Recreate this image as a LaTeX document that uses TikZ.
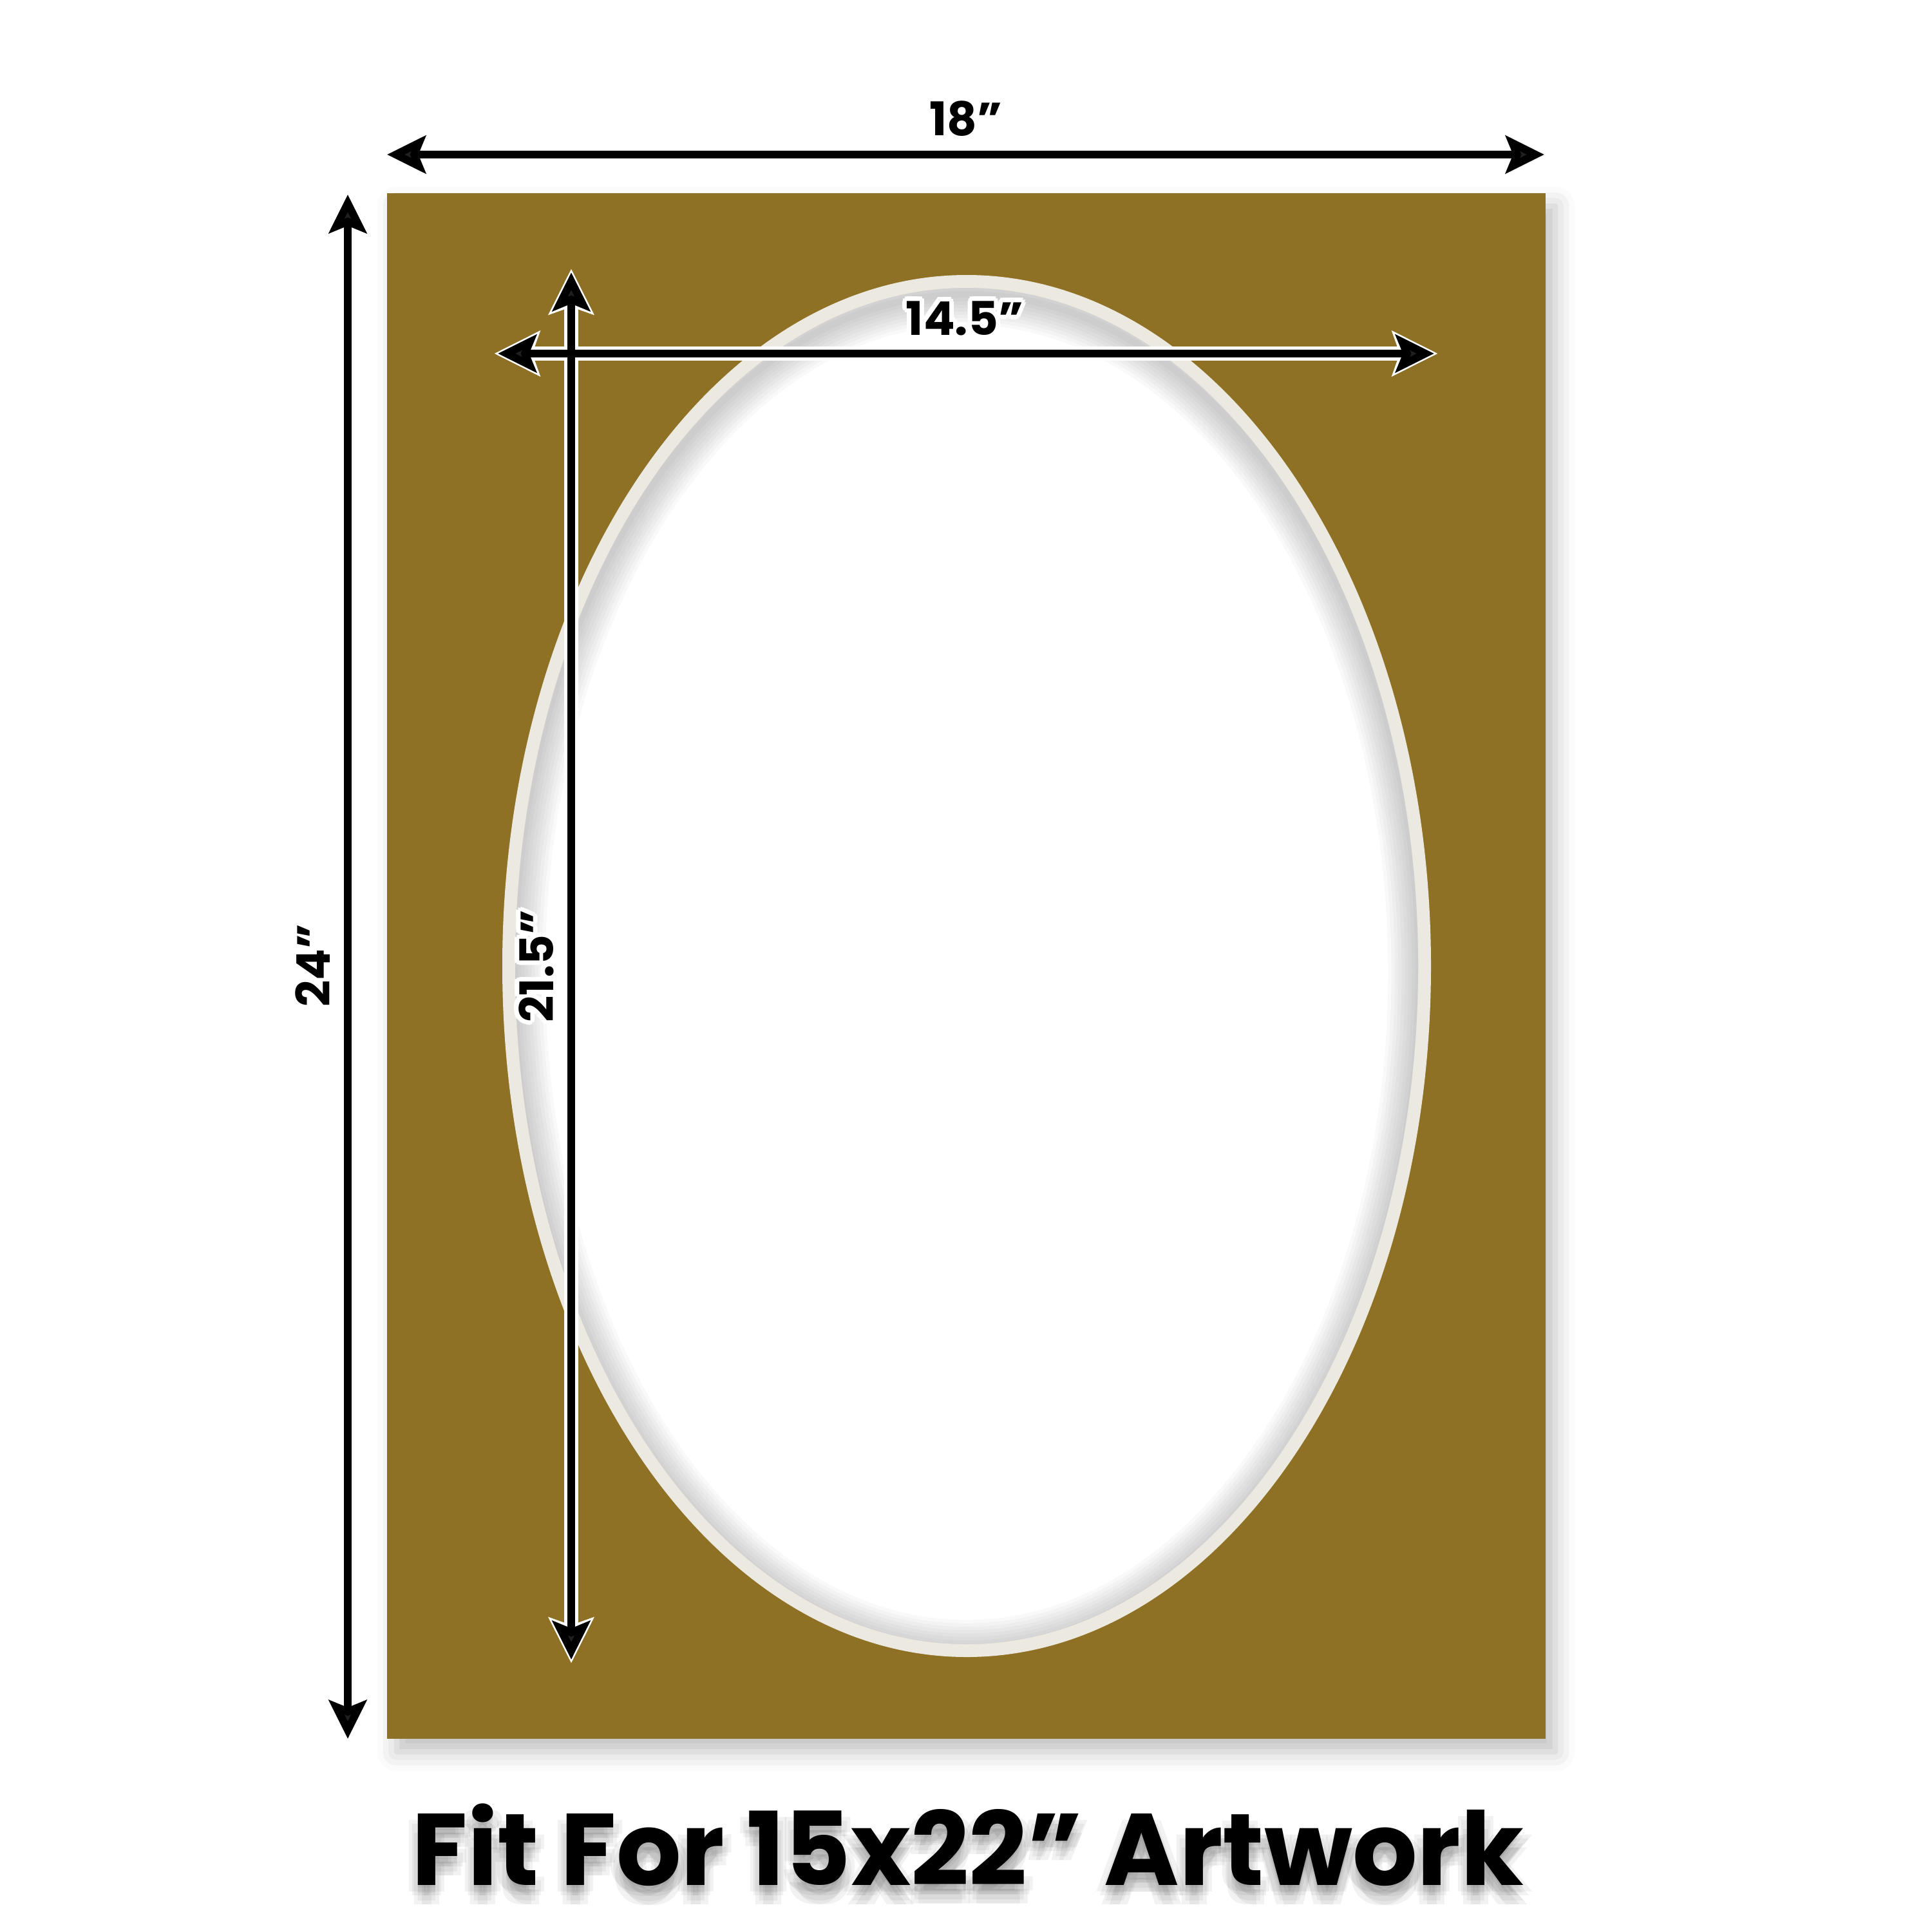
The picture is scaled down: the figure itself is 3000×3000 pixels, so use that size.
\documentclass[tikz,border=0pt]{standalone}
\usepackage{fontspec}
\setmainfont{Poppins}
\usetikzlibrary{arrows.meta,shadows.blur}

\definecolor{matgold}{RGB}{143,113,37}
\definecolor{bevel}{RGB}{236,233,225}
\tikzset{
  dimline/.style={line width=3.4pt,
    {Stealth[length=17pt,width=16.5pt,inset=3.2pt]}-{Stealth[length=17pt,width=16.5pt,inset=3.2pt]}},
  halo/.style={draw=white, line width=6.2pt,
    {Stealth[length=20pt,width=19.5pt,inset=3.2pt]}-{Stealth[length=20pt,width=19.5pt,inset=3.2pt]},
    shorten >=-1.6pt, shorten <=-1.6pt},
  dimlabel/.style={font=\fontsize{20.5pt}{24pt}\selectfont\bfseries, inner sep=0pt, anchor=base},
  caption/.style={font=\fontsize{45pt}{54pt}\selectfont\bfseries, inner sep=0pt, anchor=base}
}

\begin{document}
\begin{tikzpicture}[x=0.01cm, y=-0.01cm]
    \useasboundingbox (0,0) rectangle (3000,3000);
    % mat board
    \coordinate (matNW) at (601,300);
    \coordinate (matSE) at (2400,2700);
    \coordinate (hole) at (1501,1500);
    \fill[matgold, blur shadow={shadow xshift=1.5mm, shadow yshift=-2mm,
      shadow blur radius=3mm, shadow opacity=25}] (matNW) rectangle (matSE);
    \fill[bevel] (hole) ellipse [x radius=721, y radius=1073];
    \fill[white] (hole) ellipse [x radius=701, y radius=1053];
    \begin{scope}
      \clip (hole) ellipse [x radius=701, y radius=1053];
      \foreach \w in {3,6,...,27} {
        \draw[black!60, opacity=0.04, line width=\w pt] (1501,1510) ellipse [x radius=702, y radius=1053];
      }
    \end{scope}
    %
    % outer sizes
    \coordinate (topL) at (601,240);
    \coordinate (topR) at (2398,240);
    \coordinate (sideT) at (540,302);
    \coordinate (sideB) at (540,2700);
    \draw[dimline] (topL) -- (topR);
    \draw[dimline] (sideT) -- (sideB);
    \node[dimlabel] (lblW) at (1500,210) {18”};
    \node[dimlabel, rotate=90] (lblH) at (512,1499) {24”};
    %
    % opening sizes
    \coordinate (wideL) at (773,549);
    \coordinate (wideR) at (2227,549);
    \coordinate (tallT) at (887,423);
    \coordinate (tallB) at (887,2577);
    \draw[halo] (wideL) -- (wideR);
    \draw[halo] (tallT) -- (tallB);
    \draw[dimline] (wideL) -- (wideR);
    \draw[dimline] (tallT) -- (tallB);
    \foreach \a in {0,30,...,330} {
      \node[dimlabel, text=white] (wideh\a) at ({1498+7*cos(\a)},{520+7*sin(\a)}) {14.5”};
      \node[dimlabel, text=white, rotate=90] (tallh\a) at ({859+7*cos(\a)},{1500+7*sin(\a)}) {21.5”};
    }
    \node[dimlabel] (lblWide) at (1498,520) {14.5”};
    \node[dimlabel, rotate=90] (lblTall) at (859,1500) {21.5”};
    %
    % caption
    \foreach \dx/\dy [count=\i] in {0/12,-9/16,9/16,0/24,-14/10,14/10,0/4,-6/30,6/30} {
      \node[caption, text=black, opacity=0.05] (capsh\i) at ({1503+\dx},{2927+\dy}) {Fit For 15x22” Artwork};
    }
    \node[caption] (cap) at (1503,2927) {Fit For 15x22” Artwork};
\end{tikzpicture}
\end{document}
